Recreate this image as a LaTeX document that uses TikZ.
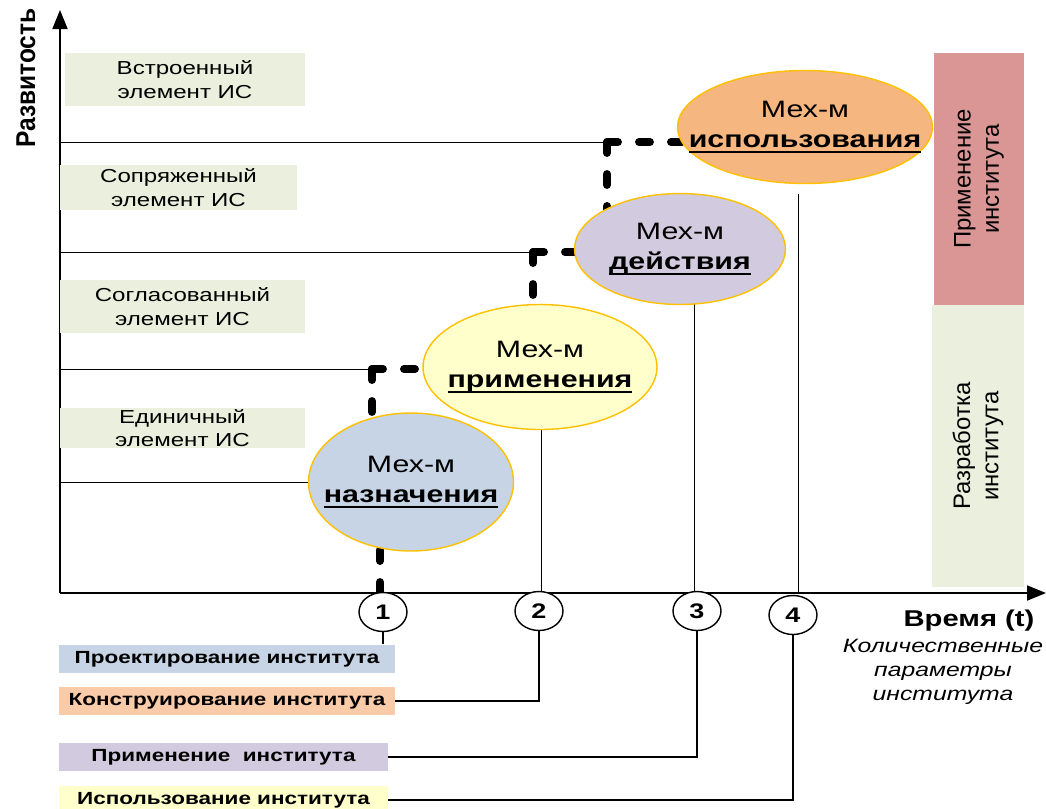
\documentclass[tikz,border=0pt]{standalone}
\usepackage{fontspec}
\setmainfont[FakeStretch=1.28]{Liberation Sans}
\newfontfamily\plainsans{Liberation Sans}
\newfontfamily\narrowsans[FakeStretch=0.9]{Liberation Sans}
\usepackage{tikz}
\usetikzlibrary{positioning}
\usetikzlibrary{shapes.geometric}
\usetikzlibrary{arrows.meta}
\usetikzlibrary{backgrounds}

\definecolor{levelgreen}{HTML}{EBF0DE}
\definecolor{mechblue}{HTML}{C6D4E5}
\definecolor{mechyellow}{HTML}{FFFFCC}
\definecolor{mechviolet}{HTML}{D2CBE0}
\definecolor{mechorange}{HTML}{F6B680}
\definecolor{stagepeach}{HTML}{F9CBA8}
\definecolor{barred}{HTML}{D99694}
\definecolor{rimgold}{HTML}{FFC000}

\newcommand{\ulbf}[1]{\setbox0\hbox{\bfseries #1}\rlap{\rule[-3.4pt]{\wd0}{1.4pt}}\box0}

\tikzset{
  level/.style={fill=levelgreen, align=center, inner sep=0pt, font=\fontsize{10.7}{13.5}\selectfont},
  mech/.style={ellipse, draw=rimgold, line width=0.8pt, inner sep=0pt},
  mechtext/.style={align=center, inner sep=0pt, font=\fontsize{13.5}{17}\selectfont},
  num/.style={ellipse, draw, fill=white, line width=0.8pt, minimum width=0.96cm, minimum height=0.78cm, inner sep=0pt, font=\bfseries\fontsize{12}{14}\selectfont},
  stage/.style={minimum height=0.56cm, inner sep=0pt, font=\bfseries\fontsize{10}{12}\selectfont},
  phase/.style={rotate=90, align=center, inner sep=0pt, font=\plainsans\fontsize{13.6}{16}\selectfont},
  axis/.style={line width=1.1pt, -{Triangle[length=0.38cm,width=0.3cm]}},
  dots/.style={line width=4.5pt, line cap=round, dash pattern=on 0.22cm off 0.42cm},
}

\begin{document}
\begin{tikzpicture}[x=0.02cm,y=-0.02cm,line width=0.6pt]
	\useasboundingbox (0,0) rectangle (1046,809);
	% axes
	\coordinate (o) at (60,593);
	\coordinate (ytop) at (60,10);
	\coordinate (xend) at (1046,593);
	\draw[axis] (o) -- (ytop);
	\draw[axis] (o) -- (xend);
	\node[rotate=90, font=\narrowsans\bfseries\fontsize{15.5}{18}\selectfont] (ylab) at (26,78) {Развитость};
	\node[font=\bfseries\fontsize{13}{16}\selectfont] (xlab) at (969,621) {Время (t)};
	\node[align=center, font=\itshape\fontsize{11}{13.6}\selectfont] (xsub) at (943,672) {Количественные\\параметры\\института};

	% levels
	\node[level, minimum width=4.8cm, minimum height=1.06cm] (lv4) at (185,79.5) {Встроенный\\элемент ИС};
	\node[level, minimum width=4.74cm, minimum height=0.9cm] (lv3) at (178.5,187.5) {Сопряженный\\элемент ИС};
	\node[level, minimum width=4.9cm, minimum height=1.06cm] (lv2) at (182.5,306.5) {Согласованный\\элемент ИС};
	\node[level, minimum width=4.9cm, minimum height=0.8cm] (lv1) at (182.5,428) {Единичный\\элемент ИС};

	% phases
	\node[phase, fill=barred, minimum width=5.04cm, minimum height=1.8cm] (ph2) at (979,179) {Применение\\института};
	\node[phase, fill=levelgreen, minimum width=5.64cm, minimum height=1.84cm] (ph1) at (978,446) {Разработка\\института};

	% mechanisms
	\node[mech, fill=mechorange, minimum width=5.1cm, minimum height=2.26cm] (isp) at (805,127) {};
	\node[mech, fill=mechviolet, minimum width=4.22cm, minimum height=2.22cm] (dei) at (680,249) {};
	\node[mech, fill=mechyellow, minimum width=4.68cm, minimum height=2.5cm] (prim) at (540,367) {};
	\node[mech, fill=mechblue, minimum width=4.1cm, minimum height=2.76cm] (naz) at (411,482) {};
	\node[mechtext] (isptext) at (isp) {Мех-м\\\ulbf{использования}};
	\node[mechtext] (deitext) at (dei) {Мех-м\\\ulbf{действия}};
	\node[mechtext] (primtext) at (prim) {Мех-м\\\ulbf{применения}};
	\node[mechtext] (naztext) at (naz) {Мех-м\\\ulbf{назначения}};

	% stages
	\node[num] (t1) at (383,612) {1};
	\node[num] (t2) at (539,611) {2};
	\node[num] (t3) at (697,611) {3};
	\node[num] (t4) at (793,615) {4};
	\node[stage, fill=mechblue, minimum width=6.72cm] (st1) at (227,659) {Проектирование института};
	\node[stage, fill=stagepeach, minimum width=6.72cm] (st2) at (227,701) {Конструирование института};
	\node[stage, fill=mechviolet, minimum width=6.58cm] (st3) at (223.5,757) {Применение\ \ института};
	\node[stage, fill=mechyellow, minimum width=6.58cm] (st4) at (223.5,800) {Использование института};
	\draw (t1) -- (t1 |- st1.north);
	\draw (t2) |- (st2);
	\draw (t3) |- (st3);
	\draw (t4) |- (st4);

	\begin{scope}[on background layer]
		\coordinate (k0) at (380,593);
		\coordinate (k1) at (372,369);
		\coordinate (k2) at (533,252);
		\coordinate (k3) at (607,142);
		\draw (o |- k1) -- (k1);
		\draw (o |- k2) -- (k2);
		\draw (o |- k3) -- (k3);
		\draw (o |- naz) -- (naz);
		\draw[dots] (k0) -- (k0 |- naz.center);
		\draw[dots] (k1) -- (k1 -| prim.center);
		\draw[dots] (k1) -- (k1 |- naz.center);
		\draw[dots] (k2) -- (k2 -| dei.center);
		\draw[dots] (k2) -- (k2 |- prim.center);
		\draw[dots] (k3) -- (k3 -| isp.center);
		\draw[dots] (k3) -- (k3 |- dei.center);
		\coordinate (v2) at (541,593);
		\coordinate (v3) at (694,593);
		\coordinate (v4) at (798,593);
		\coordinate (v4top) at (798,194);
		\draw (v2) -- (v2 |- prim.center);
		\draw (v3) -- (v3 |- dei.center);
		\draw (v4) -- (v4top);
	\end{scope}
\end{tikzpicture}
\end{document}
